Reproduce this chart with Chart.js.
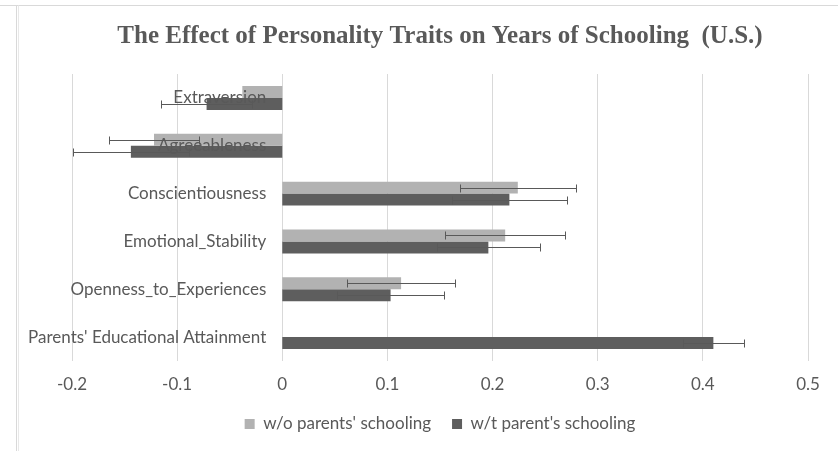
<!DOCTYPE html>
<html>
<head>
<meta charset="utf-8">
<script src="https://cdn.jsdelivr.net/npm/chart.js@4"></script>
<style>
  html, body { margin: 0; padding: 0; background: #fff; }
  #wrap { width: 838px; height: 451px; position: relative; }
</style>
</head>
<body>
<div id="wrap"><canvas id="chart" width="838" height="451"></canvas></div>
<script>
// categories, top to bottom
const categories = [
  'Extraversion',
  'Agreeableness',
  'Conscientiousness',
  'Emotional_Stability',
  'Openness_to_Experiences',
  "Parents' Educational Attainment",
];

// coefficients
const withoutParents = [-0.038, -0.122, 0.224, 0.212, 0.113, null];
const withParents    = [-0.072, -0.144, 0.216, 0.196, 0.103, 0.410];

// half-width of the error bars (null = none shown)
const withoutParentsErr = [null, 0.043, 0.055, 0.057, 0.051, null];
const withParentsErr    = [0.043, 0.055, 0.055, 0.049, 0.051, 0.029];

const xTickLabels = ['-0.2', '-0.1', '0', '0.1', '0.2', '0.3', '0.4', '0.5'];

const TEXT = '#595959';
const SANS = "Lato, 'Liberation Sans', sans-serif";

// grey frame lines like the pasted spreadsheet chart
const framePlugin = {
  id: 'frame',
  beforeDraw(chart) {
    const { ctx } = chart;
    ctx.save();
    ctx.strokeStyle = '#d9d9d9';
    ctx.lineWidth = 1;
    ctx.beginPath();
    ctx.moveTo(0, 5.5);
    ctx.lineTo(chart.width, 5.5);
    ctx.moveTo(16.5, 5.5);
    ctx.lineTo(16.5, chart.height);
    ctx.stroke();
    ctx.strokeStyle = '#e8e8e8';
    ctx.beginPath();
    ctx.moveTo(18.5, 5.5);
    ctx.lineTo(18.5, chart.height);
    ctx.stroke();
    ctx.restore();
  },
};

// error bars drawn on top of each bar
const errorBarPlugin = {
  id: 'errorBars',
  afterDatasetsDraw(chart) {
    const { ctx, scales: { x } } = chart;
    const errs = [withoutParentsErr, withParentsErr];
    ctx.save();
    ctx.strokeStyle = TEXT;
    ctx.lineWidth = 1;
    chart.data.datasets.forEach((ds, d) => {
      const meta = chart.getDatasetMeta(d);
      meta.data.forEach((bar, i) => {
        const v = ds.data[i];
        const e = errs[d][i];
        if (v == null || e == null) return;
        const x1 = Math.round(x.getPixelForValue(v - e)) + 0.5;
        const x2 = Math.round(x.getPixelForValue(v + e)) + 0.5;
        const y = Math.round(bar.y) + 0.5;
        ctx.beginPath();
        ctx.moveTo(x1, y);
        ctx.lineTo(x2, y);
        ctx.moveTo(x1, y - 4);
        ctx.lineTo(x1, y + 4);
        ctx.moveTo(x2, y - 4);
        ctx.lineTo(x2, y + 4);
        ctx.stroke();
      });
    });
    ctx.restore();
  },
};

// category names sit next to the zero line, over the negative bars
const categoryLabelPlugin = {
  id: 'categoryLabels',
  afterDatasetsDraw(chart) {
    const { ctx, scales: { x, y } } = chart;
    const x0 = x.getPixelForValue(0) - 16;
    ctx.save();
    ctx.font = '17px ' + SANS;
    ctx.fillStyle = TEXT;
    ctx.textAlign = 'right';
    ctx.textBaseline = 'middle';
    categories.forEach((c, i) => {
      ctx.fillText(c, x0, y.getPixelForValue(i));
    });
    ctx.restore();
  },
};

new Chart(document.getElementById('chart'), {
  type: 'bar',
  data: {
    labels: categories,
    datasets: [
      {
        label: "w/o parents' schooling",
        data: withoutParents,
        backgroundColor: '#b2b2b2',
        borderWidth: 0,
      },
      {
        label: "w/t parent's schooling",
        data: withParents,
        backgroundColor: '#5e5e5e',
        borderWidth: 0,
      },
    ],
  },
  options: {
    indexAxis: 'y',
    responsive: false,
    animation: false,
    layout: { padding: { left: 72, right: 30, top: 0, bottom: 8.5 } },
    datasets: { bar: { categoryPercentage: 0.5, barPercentage: 1 } },
    scales: {
      x: {
        min: -0.2,
        max: 0.5,
        grid: { color: '#d9d9d9', drawTicks: false },
        border: { display: false },
        ticks: {
          stepSize: 0.1,
          color: TEXT,
          font: { family: SANS, size: 17 },
          padding: 13,
          callback: (v, i) => xTickLabels[i],
        },
        afterFit(scale) { scale.height = 33.5; },
      },
      y: { display: false },
    },
    plugins: {
      title: {
        display: true,
        text: 'The Effect of Personality Traits on Years of Schooling  (U.S.)',
        color: TEXT,
        font: { family: "'Liberation Serif', 'Times New Roman', serif", size: 25, weight: 'bold' },
        padding: { top: 22, bottom: 22 },
      },
      legend: {
        position: 'bottom',
        labels: {
          color: TEXT,
          font: { family: SANS, size: 17 },
          boxWidth: 10,
          boxHeight: 10,
          padding: 21,
        },
      },
      tooltip: { enabled: false },
    },
  },
  plugins: [framePlugin, errorBarPlugin, categoryLabelPlugin],
});
</script>
</body>
</html>
